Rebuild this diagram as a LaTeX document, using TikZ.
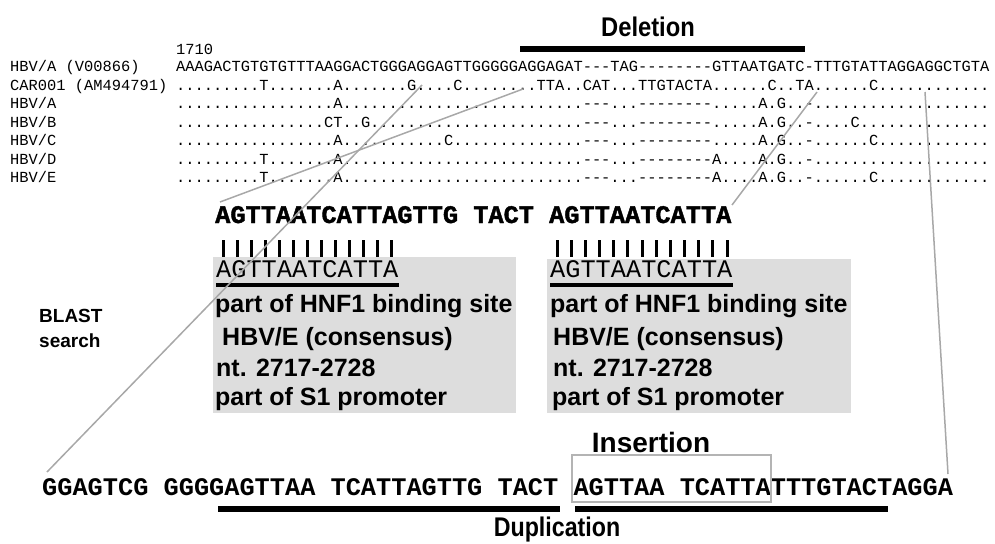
\documentclass[tikz,border=0pt]{standalone}
\usepackage{fontspec}
\setmainfont{Liberation Sans}
\newfontfamily\monofont{Liberation Mono}
\newfontfamily\monoheavy{Liberation Mono}[BoldFeatures={FakeBold=1.6}]
\definecolor{linegray}{RGB}{168,168,168}
\definecolor{boxgray}{RGB}{221,221,221}
\definecolor{rectgray}{RGB}{180,180,180}
\tikzset{
  aln/.style={anchor=base west, inner sep=0pt, font=\monofont\fontsize{15.4}{18}\selectfont},
  bigseq/.style={anchor=base west, inner sep=0pt, font=\monofont\bfseries\fontsize{25.3}{30}\selectfont},
  heavyseq/.style={anchor=base west, inner sep=0pt, font=\monoheavy\bfseries\fontsize{25.3}{30}\selectfont},
  boxseq/.style={anchor=base west, inner sep=0pt, font=\monofont\fontsize{25.3}{30}\selectfont},
  info/.style={anchor=base west, inner sep=0pt, font=\bfseries\fontsize{25}{30}\selectfont},
  blast/.style={anchor=base west, inner sep=0pt, font=\bfseries\fontsize{19}{22}\selectfont},
  heading/.style={anchor=base, inner sep=0pt, font=\bfseries\fontsize{27}{30}\selectfont},
  thickbar/.style={line width=6pt},
  matchbar/.style={line width=3pt},
  underbar/.style={line width=4pt},
  connector/.style={draw=linegray, line width=1.5pt},
  graybox/.style={fill=boxgray, draw=none},
  insbox/.style={draw=rectgray, line width=1.5pt},
}
\begin{document}
\begin{tikzpicture}[x=1pt,y=-1pt]
\useasboundingbox (0,0) rectangle (995,543);
% gray boxes
\fill[graybox] (213,257) rectangle (516,413);
\fill[graybox] (547,259) rectangle (851,413);
% heading Deletion
\node[heading] (del) at (648,37) {\scalebox{0.88}[1]{Deletion}};
\coordinate (delL) at (520,49);
\coordinate (delR) at (805,49);
\draw[thickbar] (delL) -- (delR);
% alignment
\node[aln] (pos) at (176,54.5) {1710};
\node[aln] (l0) at (10,71.5) {HBV/A (V00866)};
\node[aln] (l1) at (10,90) {CAR001 (AM494791)};
\node[aln] (l2) at (10,108.5) {HBV/A};
\node[aln] (l3) at (10,127) {HBV/B};
\node[aln] (l4) at (10,145.5) {HBV/C};
\node[aln] (l5) at (10,164) {HBV/D};
\node[aln] (l6) at (10,182.5) {HBV/E};
\node[aln] (s0) at (176,71.5) {AAAGACTGTGTGTTTAAGGACTGGGAGGAGTTGGGGGAGGAGAT---TAG--------GTTAATGATC-TTTGTATTAGGAGGCTGTA};
\node[aln] (s1) at (176,90) {.........T.......A.......G....C........TTA..CAT...TTGTACTA......C..TA......C............};
\node[aln] (s2) at (176,108.5) {.................A..........................---...--------.....A.G..-...................};
\node[aln] (s3) at (176,127) {................CT..G.......................---...--------.....A.G..-....C..............};
\node[aln] (s4) at (176,145.5) {.................A...........C..............---...--------.....A.G..-......C............};
\node[aln] (s5) at (176,164) {.........T.......A..........................---...--------A....A.G..-...................};
\node[aln] (s6) at (176,182.5) {.........T.......A..........................---...--------A....A.G..-......C............};
% middle sequence
\node[heavyseq] (mid) at (215,223) {AGTTAATCATTAGTTG TACT AGTTAATCATTA};
\foreach \i in {0,...,12} {
  \draw[matchbar] ({223+14.08*\i},240) -- ({223+14.08*\i},257);
  \draw[matchbar] ({557+14.17*\i},240) -- ({557+14.17*\i},257);
}
% box contents left
\node[boxseq] (bl) at (216,277) {AGTTAATCATTA};
\draw[underbar] (bl.base west |- 0,285) -- (bl.base east |- 0,285);
\node[info] (bl1) at (215,312) {part of HNF1 binding site};
\node[info] (bl2) at (222,345) {HBV/E (consensus)};
\node[info] (bl3) at (216,376) {nt. 2717-2728};
\node[info] (bl4) at (215,405) {part of S1 promoter};
% box contents right
\node[boxseq] (br) at (550,277) {AGTTAATCATTA};
\draw[underbar] (br.base west |- 0,285) -- (br.base east |- 0,285);
\node[info] (br1) at (550,312) {part of HNF1 binding site};
\node[info] (br2) at (553,345) {HBV/E (consensus)};
\node[info] (br3) at (553,376) {nt. 2717-2728};
\node[info] (br4) at (552,405) {part of S1 promoter};
% BLAST
\node[blast] (bs1) at (39,322) {BLAST};
\node[blast] (bs2) at (39,347) {search};
% bottom
\node[heading, font=\bfseries\fontsize{28}{30}\selectfont] (ins) at (651,452) {Insertion};
\node[bigseq] (bot) at (42,495) {GGAGTCG GGGGAGTTAA TCATTAGTTG TACT AGTTAA TCATTATTTGTACTAGGA};
\draw[insbox] (572,455) rectangle (771,502);
\coordinate (dupA) at (218,509);
\coordinate (dupB) at (560,509);
\coordinate (dupC) at (575,509);
\coordinate (dupD) at (888,509);
\draw[thickbar] (dupA) -- (dupB);
\draw[thickbar] (dupC) -- (dupD);
\node[heading] (dup) at (557,536) {\scalebox{0.86}[1]{Duplication}};
% connectors
\coordinate (a1) at (422,85);
\coordinate (a2) at (47,472);
\coordinate (b1) at (523,89);
\coordinate (b2) at (220,202);
\coordinate (c1) at (817,92);
\coordinate (c2) at (732,205);
\coordinate (d1) at (925,92);
\coordinate (d2) at (948,474);
\draw[connector] (a1) -- (a2);
\draw[connector] (b1) -- (b2);
\draw[connector] (c1) -- (c2);
\draw[connector] (d1) -- (d2);
\end{tikzpicture}
\end{document}
